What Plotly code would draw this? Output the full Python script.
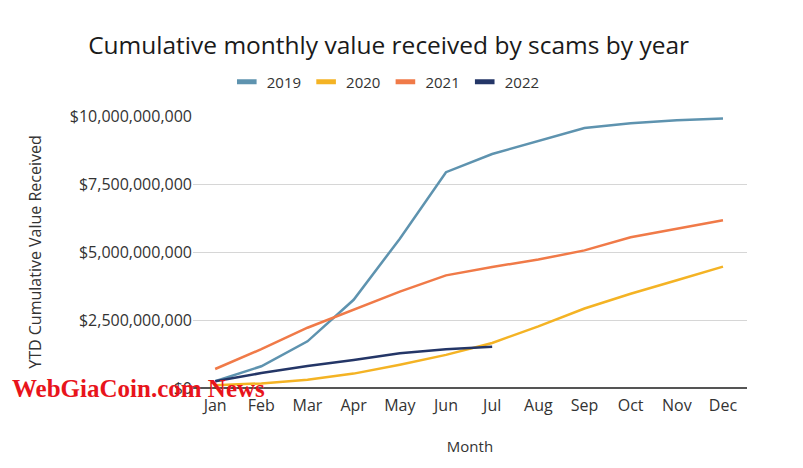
import plotly.graph_objects as go

months = ["Jan", "Feb", "Mar", "Apr", "May", "Jun", "Jul", "Aug", "Sep", "Oct", "Nov", "Dec"]
years = ["2019", "2020", "2021", "2022"]
v2019 = [0.25e9, 0.80e9, 1.72e9, 3.25e9, 5.50e9, 7.95e9, 8.62e9, 9.10e9, 9.58e9, 9.75e9, 9.86e9, 9.93e9]
v2020 = [0.10e9, 0.17e9, 0.30e9, 0.53e9, 0.86e9, 1.22e9, 1.66e9, 2.27e9, 2.93e9, 3.47e9, 3.97e9, 4.47e9]
v2021 = [0.70e9, 1.43e9, 2.22e9, 2.88e9, 3.55e9, 4.15e9, 4.46e9, 4.73e9, 5.07e9, 5.55e9, 5.87e9, 6.18e9]
v2022 = [0.25e9, 0.55e9, 0.81e9, 1.03e9, 1.28e9, 1.43e9, 1.52e9]
series = [v2019, v2020, v2021, v2022]
colors = ["#5E93AF", "#F4B324", "#F07A48", "#243667"]
y_ticks = [0, 2.5e9, 5e9, 7.5e9, 10e9]
y_tick_text = ["$0", "$2,500,000,000", "$5,000,000,000", "$7,500,000,000", "$10,000,000,000"]

FONT = "Open Sans"
fig = go.Figure()
for name, vals, col in zip(years, series, colors):
    fig.add_trace(go.Scatter(x=months[:len(vals)], y=vals, mode="lines", name=name,
                             line=dict(color=col, width=2.5), showlegend=False))
for name, col in zip(years, colors):
    fig.add_trace(go.Scatter(x=[None], y=[None], mode="markers", name=name,
                             marker=dict(symbol="line-ew", size=14, line=dict(color=col, width=5))))

fig.update_layout(
    width=803, height=468,
    margin=dict(l=185, r=64, t=108, b=88),
    paper_bgcolor="white", plot_bgcolor="white",
    font=dict(family=FONT, size=16, color="#333333"),
    title=dict(text="Cumulative monthly value received by scams by year", x=0.474, xanchor="center",
               y=0.921, yanchor="middle", font=dict(family=FONT, size=24.5, color="#1a1a1a")),
    legend=dict(orientation="h", x=0.348, xanchor="center", y=1.125, yanchor="middle",
                font=dict(family=FONT, size=15, color="#333333"), itemwidth=30),
    xaxis=dict(type="category", categoryorder="array", categoryarray=months,
               range=[-0.48, 11.52], showgrid=False, showline=False, ticks="",
               ticklabelstandoff=6,
               title=dict(text="Month", standoff=26, font=dict(size=15)), zeroline=False),
    yaxis=dict(range=[0, 10.02e9], tickvals=y_ticks, ticktext=y_tick_text,
               showgrid=True, gridcolor="#D6D6D6", gridwidth=1,
               zeroline=True, zerolinecolor="#555555", zerolinewidth=1.5,
               showline=False, ticks="",
               title=dict(text="YTD Cumulative Value Received", standoff=24, font=dict(size=16))),
)
fig.add_annotation(text="<b>WebGiaCoin.com News</b>", xref="paper", yref="paper",
                   x=-0.33, y=0.0, xanchor="left", yanchor="middle", showarrow=False,
                   font=dict(family="Liberation Serif", size=25, color="#E8141B"))
fig.write_html("out.html")
